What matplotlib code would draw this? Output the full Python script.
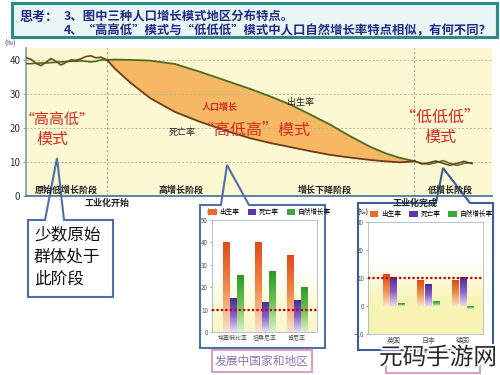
import numpy as np
import matplotlib
matplotlib.use('Agg')
import matplotlib.pyplot as plt
from matplotlib.patches import Rectangle, Polygon
from matplotlib.colors import LinearSegmentedColormap
import matplotlib.patheffects as pe

plt.rcParams['font.family'] = ['Noto Sans CJK SC', 'DejaVu Sans']

# ---------------- data ----------------
title_head = "思考："
title_lines = ["3、图中三种人口增长模式地区分布特点。",
               "4、“高高低”模式与“低低低”模式中人口自然增长率特点相似，有何不同？"]

# main chart: time axis in arbitrary units (0..466)
early_t = [0, 5, 10, 15, 20, 25, 30, 35, 40, 45, 50, 55, 60, 65, 70, 75, 81]
early_birth = [38.9, 38.9, 39.0, 39.1, 39.1, 39.2, 39.3, 39.4, 39.5, 39.6, 39.6, 39.7, 39.6, 39.4, 39.6, 40.0, 40.0]
early_death = [40.6, 40.2, 39.0, 38.3, 39.3, 40.4, 39.6, 38.5, 39.3, 40.0, 39.9, 40.3, 41.0, 41.2, 40.6, 40.8, 40.0]

mid_t = [81, 89, 104, 124, 149, 174, 204, 224, 244, 264, 284, 304, 324, 344, 359, 374, 389]
mid_birth = [40.0, 40.1, 40.0, 39.8, 38.8, 36.5, 33.5, 31.5, 29.3, 26.9, 24.0, 21.0, 17.6, 14.5, 12.6, 11.2, 10.2]
mid_death = [40.0, 37.4, 33.4, 28.8, 24.7, 21.8, 18.8, 17.0, 15.6, 14.4, 13.2, 12.1, 11.3, 10.6, 10.2, 9.9, 10.2]

late_t = [389, 396, 403, 410, 417, 424, 431, 438, 446]
late_birth = [10.2, 9.6, 9.3, 9.8, 10.4, 9.6, 9.0, 9.6, 9.8]
late_death = [10.2, 9.4, 9.8, 10.3, 9.6, 9.0, 9.6, 10.2, 9.5]

industry_start, industry_end = 81, 388
main_yticks = [0, 10, 20, 30, 40]

stage_names = ["原始低增长阶段", "高增长阶段", "增长下降阶段", "低增长阶段"]

# bar charts
legend_labels = ["出生率", "死亡率", "自然增长率"]
dev_countries = ["埃塞俄比亚", "坦桑尼亚", "肯尼亚"]
dev_birth = [40, 40, 34]
dev_death = [15, 13, 14]
dev_natural = [25, 27, 20]
dev_yticks = [0, 10, 20, 30, 40, 50]

devd_countries = ["英国", "日本", "德国"]
devd_birth = [11.1, 9.0, 9.0]
devd_death = [10.1, 7.8, 10.1]
devd_natural = [1.0, 1.6, -1.0]
devd_yticks = [-10, 0, 10, 20, 30]
ref_line = 10

# ---------------- figure ----------------
W, H = 500, 375
fig = plt.figure(figsize=(5, 3.75), dpi=100)
fig.patch.set_facecolor('white')

def frac(x0, y0, x1, y1):
    return [x0 / W, 1 - y1 / H, (x1 - x0) / W, (y1 - y0) / H]

# main chart
ax = fig.add_axes(frac(26, 48, 492, 196), zorder=1)
ax.set_facecolor('#fcf8d2')
ax.fill_between(mid_t, mid_birth, mid_death, color='#f6b862', lw=0, zorder=1)
ax.plot(early_t, early_birth, color='#4d6a1e', lw=1.2, zorder=3)
ax.plot(early_t, early_death, color='#6b4a1c', lw=1.2, zorder=3)
ax.plot(mid_t, mid_birth, color='#4d6a1e', lw=1.3, zorder=3)
ax.plot(mid_t, mid_death, color='#6b3d1c', lw=1.3, zorder=3)
ax.plot(late_t, late_birth, color='#4d6a1e', lw=1.1, zorder=3)
ax.plot(late_t, late_death, color='#6b3d1c', lw=1.1, zorder=3)
ax.set_xlim(0, 466)
ax.set_ylim(0, 43.5)
ax.set_yticks(main_yticks)
ax.set_xticks([])
ax.grid(axis='y', ls=(0, (2, 2)), color='#b5b59a', lw=0.7)
for xv in (industry_start, industry_end):
    ax.axvline(xv, ls=(0, (2, 2)), color='#a8a890', lw=0.8)
for s in ('top', 'right'):
    ax.spines[s].set_visible(False)
ax.spines['left'].set_color('#7fa8b8')
ax.spines['left'].set_linewidth(1.3)
ax.spines['bottom'].set_color('#4f78a0')
ax.spines['bottom'].set_linewidth(1.3)
ax.tick_params(axis='y', labelsize=7, length=2, color='#7fa8b8', labelcolor='#333333', pad=2)

# overlay axes in pixel coordinates
ao = fig.add_axes([0, 0, 1, 1], zorder=2)
ao.set_xlim(0, W)
ao.set_ylim(H, 0)
ao.axis('off')
ao.patch.set_alpha(0)

# title box
ao.add_patch(Rectangle((12, 3), 485, 34, facecolor='#eaf6f6', edgecolor='#2b8a8a', lw=2.2))
navy = '#1c2a84'
ao.text(20, 17, title_head, fontsize=9.4, color=navy, fontweight='bold', va='center')
ao.text(64, 17, title_lines[0], fontsize=8.9, color=navy, fontweight='bold', va='center')
ao.text(64, 31, title_lines[1], fontsize=8.9, color=navy, fontweight='bold', va='center')

ao.text(4, 44, "(‰)", fontsize=5, color='#333333', va='center')

# main chart labels
red = '#d42a20'
ao.text(57, 120, "“高高低”", fontsize=10.8, color=red, ha='center', va='center')
ao.text(52, 139, "模式", fontsize=11.5, color=red, ha='center', va='center')
ao.text(254, 130, "“高低高”模式", fontsize=11.5, color=red, ha='center', va='center')
ao.text(440, 117, "“低低低”", fontsize=11.5, color=red, ha='center', va='center')
ao.text(440, 137, "模式", fontsize=11.5, color=red, ha='center', va='center')
ao.text(220, 107, "人口增长", fontsize=6.5, color=red, ha='center', va='center', fontweight='bold')
ao.text(300, 102, "出生率", fontsize=6.5, color='#222222', ha='center', va='center')
ao.text(182, 133, "死亡率", fontsize=6.5, color='#222222', ha='center', va='center')

for name, xc in zip(stage_names, [66, 181, 325, 450]):
    ao.text(xc, 190, name, fontsize=6.5, color='#222222', ha='center', va='center', fontweight='bold')
ao.text(107, 203, "工业化开始", fontsize=6.5, color='#222222', ha='center', va='center', fontweight='bold')
ao.text(415, 203, "工业化完成", fontsize=6.5, color='#222222', ha='center', va='center', fontweight='bold')

# callouts
ao.add_patch(Polygon([(28, 220), (45, 220), (57, 158), (64, 220), (113, 220), (113, 297), (28, 297)],
                     closed=True, facecolor='none', edgecolor='#4e70a8', lw=1.5))
ao.add_patch(Polygon([(200, 205), (221, 205), (227, 165), (249, 205), (325, 205), (325, 348), (200, 348)],
                     closed=True, facecolor='none', edgecolor='#4e70a8', lw=1.5))
ao.add_patch(Polygon([(358, 203), (436, 203), (443, 168), (470, 203), (493, 203), (493, 350), (358, 350)],
                     closed=True, facecolor='none', edgecolor='#3f5c9e', lw=1.5))
for i, line in enumerate(["少数原始", "群体处于", "此阶段"]):
    ao.text(34, 235 + i * 22, line, fontsize=12, color='#111111', va='center')

ao.add_patch(Rectangle((212, 350), 100, 22, facecolor='white', edgecolor='#dca0b8', lw=1.5))
ao.text(262, 361, "发展中国家和地区", fontsize=8.5, color='#8878b8', ha='center', va='center')
ao.add_patch(Rectangle((386, 352), 94, 21, facecolor='white', edgecolor='#dca0b8', lw=1.5))

ao.text(206, 213, "(‰)", fontsize=4.5, color='#333333', va='center')
ao.text(358, 212, "(‰)", fontsize=4.5, color='#333333', va='center', fontweight='bold')

# gradient colormaps
cm_birth = LinearSegmentedColormap.from_list('b', ['#fbe2cc', '#f08a48', '#e24a18'])
cm_death = LinearSegmentedColormap.from_list('d', ['#e8dcf4', '#8a60c8', '#4a2a9a'])
cm_nat = LinearSegmentedColormap.from_list('n', ['#dcf2cc', '#6cc050', '#2a9a2a'])
solid = ['#ec6a2c', '#5a34a8', '#3aa83a']
cmaps = [cm_birth, cm_death, cm_nat]

def grad_bar(a, x, h, w, cmap):
    y0, y1 = (0, h) if h >= 0 else (h, 0)
    g = np.linspace(1, 0, 64).reshape(-1, 1)
    a.imshow(g, cmap=cmap, extent=(x - w / 2, x + w / 2, y0, y1), aspect='auto',
             origin='upper', zorder=2, interpolation='bilinear')

def bar_chart(rect, countries, series, yticks, ylim, xlim, bg_profile, xfs):
    a = fig.add_axes(rect, zorder=3)
    bg = np.array(bg_profile).reshape(-1, 1)
    cm_bg = LinearSegmentedColormap.from_list('bg', ['#ffffff', '#f6f2a6'])
    a.imshow(bg, cmap=cm_bg, vmin=0, vmax=1, extent=(0, 1, 0, 1), transform=a.transAxes,
             aspect='auto', origin='upper', zorder=0, interpolation='bilinear')
    w = 0.2
    offs = [-0.22, 0.0, 0.22]
    for si, vals in enumerate(series):
        for gi, v in enumerate(vals):
            grad_bar(a, gi + offs[si], v, w, cmaps[si])
    a.axhline(ref_line, color='#c00010', ls=(0, (1.0, 1.0)), lw=1.6, zorder=4)
    a.set_xlim(*xlim)
    a.set_ylim(*ylim)
    a.set_yticks(yticks)
    a.set_xticks(range(len(countries)))
    a.set_xticklabels(countries)
    a.tick_params(axis='x', length=0, labelsize=xfs, labelcolor='#555555', pad=2)
    a.tick_params(axis='y', length=1.5, labelsize=4.5, labelcolor='#555555', pad=1.5, color='#99aabb')
    for s in a.spines.values():
        s.set_color('#a8b8c8')
        s.set_linewidth(0.6)
    handles = [Rectangle((0, 0), 1, 1, facecolor=c, edgecolor='none') for c in solid]
    a.legend(handles, legend_labels, ncol=3, loc='lower center', bbox_to_anchor=(0.55, 1.0),
             fontsize=4.8, frameon=False, handlelength=1.3, handleheight=0.9,
             columnspacing=1.2, handletextpad=0.4, borderaxespad=0.15)
    return a

bar_chart(frac(212, 220, 317, 332), dev_countries, [dev_birth, dev_death, dev_natural],
          dev_yticks, (0, 50), (-0.67, 2.64), [0, 0, 0, 0.1, 0.3, 0.5, 0.6], 4.3)
bar_chart(frac(368, 222, 483, 334), devd_countries, [devd_birth, devd_death, devd_natural],
          devd_yticks, (-10, 30), (-0.75, 2.58), [0, 0, 0, 0.15, 0.5, 0.8, 0.85, 0.85], 5)

# watermark
fig.text(438 / W, 1 - 358 / H, "元码手游网", fontsize=17, color='#2a2a2a', ha='center', va='center',
         zorder=10, path_effects=[pe.withStroke(linewidth=3, foreground='white')])

fig.savefig('out.png', dpi=100)
